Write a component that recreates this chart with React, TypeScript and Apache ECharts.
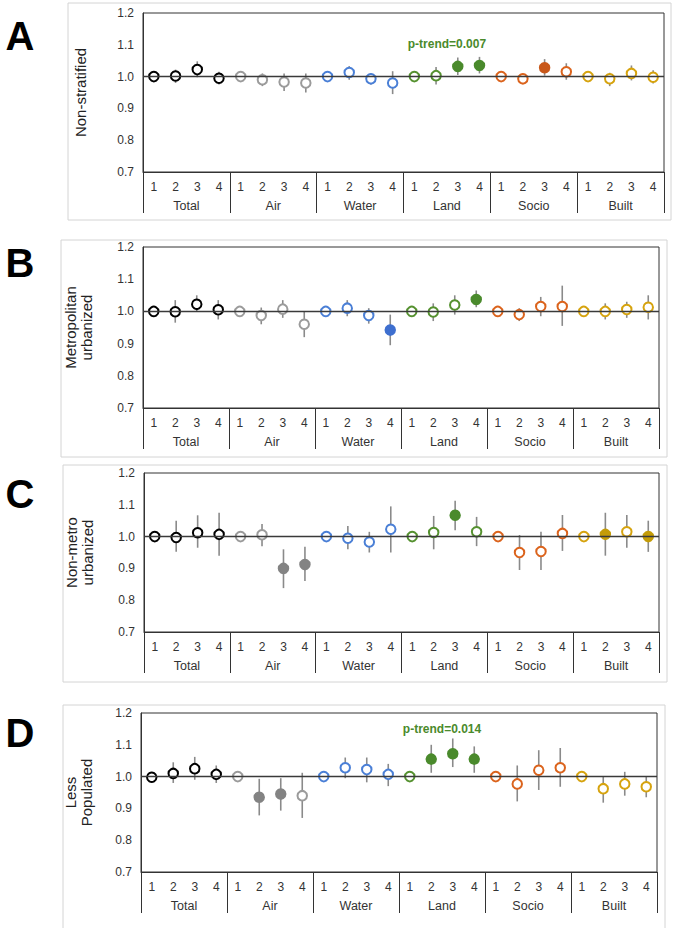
import React, { useEffect, useRef } from "react";
import * as echarts from "echarts";

// ---------- data ----------
const groups = ["Total", "Air", "Water", "Land", "Socio", "Built"];
const quartiles = ["1", "2", "3", "4"];
const yMin = 0.7;
const yMax = 1.2;
const yStep = 0.1;

const openColors = ["#000000", "#9b9b9b", "#4a7fd6", "#55912f", "#db631c", "#d6a30e"];
const filledColors = ["#000000", "#838383", "#3e6fcf", "#4a8a2c", "#c8581a", "#c49c08"];

const panelLetters = ["A", "B", "C", "D"];
const panelTitles = ["Non-stratified", "Metropolitan\nurbanized", "Non-metro\nurbanized", "Less\nPopulated"];
const pTrendTexts = ["p-trend=0.007", "", "", "p-trend=0.014"];

// Panel A: Non-stratified
const estA = [1.0, 1.002, 1.022, 0.995, 1.0, 0.99, 0.983, 0.98, 1.0, 1.013, 0.993, 0.98, 1.0, 1.003, 1.032, 1.035, 1.0, 0.993, 1.028, 1.015, 1.0, 0.993, 1.01, 0.998];
const loA = [1.0, 0.98, 0.998, 0.975, 1.0, 0.97, 0.955, 0.95, 1.0, 0.99, 0.975, 0.945, 1.0, 0.975, 1.005, 1.01, 1.0, 0.98, 1.003, 0.99, 1.0, 0.97, 0.988, 0.978];
const hiA = [1.0, 1.022, 1.048, 1.015, 1.0, 1.01, 1.01, 1.01, 1.0, 1.033, 1.01, 1.017, 1.0, 1.03, 1.06, 1.062, 1.0, 1.006, 1.055, 1.042, 1.0, 1.012, 1.035, 1.02];
const sigA = [0, 0, 0, 0, 0, 0, 0, 0, 0, 0, 0, 0, 0, 0, 1, 1, 0, 0, 1, 0, 0, 0, 0, 0];

// Panel B: Metropolitan urbanized
const estB = [1.0, 0.999, 1.022, 1.005, 1.0, 0.987, 1.007, 0.96, 1.0, 1.01, 0.987, 0.942, 1.0, 0.998, 1.02, 1.037, 1.0, 0.99, 1.015, 1.015, 1.0, 1.0, 1.006, 1.013];
const loB = [1.0, 0.965, 1.0, 0.975, 1.0, 0.96, 0.98, 0.92, 1.0, 0.985, 0.962, 0.895, 1.0, 0.97, 0.99, 1.013, 1.0, 0.97, 0.985, 0.955, 1.0, 0.975, 0.98, 0.975];
const hiB = [1.0, 1.035, 1.05, 1.035, 1.0, 1.012, 1.035, 1.0, 1.0, 1.035, 1.01, 0.99, 1.0, 1.025, 1.05, 1.065, 1.0, 1.01, 1.045, 1.08, 1.0, 1.025, 1.03, 1.05];
const sigB = [0, 0, 0, 0, 0, 0, 0, 0, 0, 0, 0, 1, 0, 0, 0, 1, 0, 0, 0, 0, 0, 0, 0, 0];

// Panel C: Non-metro urbanized
const estC = [1.0, 0.997, 1.012, 1.007, 1.0, 1.006, 0.9, 0.912, 1.0, 0.995, 0.983, 1.023, 1.0, 1.013, 1.067, 1.015, 1.0, 0.95, 0.953, 1.01, 1.0, 1.007, 1.015, 1.0];
const loC = [1.0, 0.952, 0.965, 0.94, 1.0, 0.97, 0.838, 0.86, 1.0, 0.96, 0.95, 0.95, 1.0, 0.96, 1.02, 0.97, 1.0, 0.895, 0.895, 0.955, 1.0, 0.94, 0.965, 0.952];
const hiC = [1.0, 1.05, 1.067, 1.075, 1.0, 1.04, 0.96, 0.968, 1.0, 1.033, 1.015, 1.095, 1.0, 1.065, 1.113, 1.062, 1.0, 1.005, 1.015, 1.068, 1.0, 1.075, 1.068, 1.05];
const sigC = [0, 0, 0, 0, 0, 0, 1, 1, 0, 0, 0, 0, 0, 0, 1, 0, 0, 0, 0, 0, 0, 1, 0, 1];

// Panel D: Less Populated
const estD = [0.998, 1.01, 1.025, 1.007, 1.0, 0.935, 0.945, 0.94, 1.0, 1.028, 1.022, 1.007, 1.0, 1.055, 1.072, 1.055, 1.0, 0.977, 1.02, 1.028, 1.0, 0.962, 0.977, 0.968];
const loD = [0.998, 0.98, 0.99, 0.98, 1.0, 0.878, 0.893, 0.87, 1.0, 0.995, 0.982, 0.97, 1.0, 1.012, 1.03, 1.012, 1.0, 0.922, 0.958, 0.968, 1.0, 0.918, 0.94, 0.935];
const hiD = [0.998, 1.045, 1.062, 1.035, 1.0, 0.993, 0.995, 1.012, 1.0, 1.06, 1.06, 1.04, 1.0, 1.1, 1.12, 1.095, 1.0, 1.035, 1.083, 1.09, 1.0, 1.0, 1.015, 1.0];
const sigD = [0, 0, 0, 0, 0, 1, 1, 0, 0, 0, 0, 0, 0, 1, 1, 1, 0, 0, 0, 0, 0, 0, 0, 0];

const panelData = [
  { est: estA, lo: loA, hi: hiA, sig: sigA },
  { est: estB, lo: loB, hi: hiB, sig: sigB },
  { est: estC, lo: loC, hi: hiC, sig: sigC },
  { est: estD, lo: loD, hi: hiD, sig: sigD },
];

// ---------- layout ----------
const W = 675;
const H = 928;
const gridBoxes = [
  { left: 143, top: 13, width: 521, height: 159 },
  { left: 143, top: 247, width: 516, height: 161 },
  { left: 144, top: 473, width: 515, height: 159 },
  { left: 141, top: 713, width: 516, height: 159 },
];
const panelFrames = [
  { x: 68, y: 3, w: 603, h: 217 },
  { x: 61, y: 240, w: 606, h: 217 },
  { x: 63, y: 465, w: 604, h: 217 },
  { x: 63, y: 705, w: 602, h: 240 },
];
const letterPos = [
  { x: 20, y: 36 },
  { x: 20, y: 263 },
  { x: 20, y: 494 },
  { x: 20, y: 733 },
];
const pTrendY = [44, 0, 0, 729];
const titleGaps = [55, 49, 49, 47];

const catLabels: string[] = [];
groups.forEach(() => quartiles.forEach((q) => catLabels.push(q)));

export default function App() {
  const ref = useRef<HTMLDivElement>(null);

  useEffect(() => {
    document.body.style.margin = "0";
    document.body.style.background = "#ffffff";
    if (!ref.current) return;
    const chart = echarts.init(ref.current, undefined, { renderer: "svg" });

    const grid: any[] = [];
    const xAxis: any[] = [];
    const yAxis: any[] = [];
    const series: any[] = [];
    const graphic: any[] = [];

    panelData.forEach((p, k) => {
      const g = gridBoxes[k];
      grid.push({
        left: g.left,
        top: g.top,
        width: g.width,
        height: g.height,
        show: true,
        borderColor: "#333",
        borderWidth: 1,
        backgroundColor: "transparent",
      });
      xAxis.push({
        type: "category",
        gridIndex: k,
        data: catLabels,
        boundaryGap: true,
        axisLine: { show: true, lineStyle: { color: "#333", width: 1 } },
        axisTick: { show: false },
        axisLabel: { interval: 0, color: "#333", fontSize: 12, margin: 9, fontFamily: "Liberation Sans, Arial, sans-serif" },
        splitLine: { show: false },
      });
      xAxis.push({
        type: "category",
        gridIndex: k,
        data: groups,
        position: "bottom",
        boundaryGap: true,
        axisLine: { show: false },
        axisTick: { show: true, interval: 0, length: 41, lineStyle: { color: "#333", width: 1 } },
        axisLabel: { interval: 0, color: "#333", fontSize: 12.5, margin: 27, fontFamily: "Liberation Sans, Arial, sans-serif" },
        splitLine: { show: false },
      });
      yAxis.push({
        type: "value",
        gridIndex: k,
        min: yMin,
        max: yMax,
        interval: yStep,
        axisLine: { show: true, lineStyle: { color: "#333", width: 1 } },
        axisTick: { show: false },
        splitLine: { show: false },
        axisLabel: {
          color: "#333",
          fontSize: 12,
          margin: 9,
          fontFamily: "Liberation Sans, Arial, sans-serif",
          formatter: (v: number) => v.toFixed(1),
        },
        name: panelTitles[k],
        nameLocation: "middle",
        nameGap: titleGaps[k],
        nameTextStyle: {
          color: "#222",
          fontSize: 15,
          lineHeight: 16,
          fontFamily: "Liberation Sans, Arial, sans-serif",
        },
      });

      const errData = p.est.map((_, i) => [i, p.lo[i], p.hi[i]]);
      series.push({
        type: "custom",
        xAxisIndex: 2 * k,
        yAxisIndex: k,
        z: 2,
        silent: true,
        data: errData,
        renderItem: (params: any, api: any) => {
          const x = api.value(0);
          const a = api.coord([x, api.value(1)]);
          const b = api.coord([x, api.value(2)]);
          return {
            type: "line",
            shape: { x1: a[0], y1: a[1], x2: b[0], y2: b[1] },
            style: { stroke: "#8a8a8a", lineWidth: 1.6 },
          };
        },
        markLine: {
          silent: true,
          symbol: "none",
          label: { show: false },
          lineStyle: { color: "#3a3a3a", width: 1.3, type: "solid" },
          data: [{ yAxis: 1.0 }],
        },
      });

      const pts = p.est.map((v, i) => {
        const gi = Math.floor(i / 4);
        const filled = p.sig[i] === 1;
        return {
          value: [i, v],
          itemStyle: {
            color: filled ? filledColors[gi] : "#ffffff",
            borderColor: filled ? filledColors[gi] : openColors[gi],
            borderWidth: 2,
            opacity: 1,
          },
        };
      });
      series.push({
        type: "scatter",
        xAxisIndex: 2 * k,
        yAxisIndex: k,
        z: 3,
        symbol: "circle",
        symbolSize: 9.5,
        data: pts,
      });

      const fr = panelFrames[k];
      graphic.push({
        type: "rect",
        silent: true,
        z: 0,
        shape: { x: fr.x, y: fr.y, width: fr.w, height: fr.h },
        style: { fill: "none", stroke: "#d4d4d4", lineWidth: 1 },
      });
      graphic.push({
        type: "text",
        silent: true,
        x: letterPos[k].x,
        y: letterPos[k].y,
        style: {
          text: panelLetters[k],
          font: "bold 40px 'Liberation Sans', Arial, sans-serif",
          fill: "#000",
          align: "center",
          verticalAlign: "middle",
        },
      });
      if (pTrendTexts[k]) {
        graphic.push({
          type: "text",
          silent: true,
          x: g.left + (g.width / 24) * 14,
          y: pTrendY[k],
          style: {
            text: pTrendTexts[k],
            font: "bold 12px 'Liberation Sans', Arial, sans-serif",
            fill: "#4a8a2c",
            align: "center",
            verticalAlign: "middle",
          },
        });
      }
    });

    chart.setOption({
      animation: false,
      backgroundColor: "#ffffff",
      grid,
      xAxis,
      yAxis,
      series,
      graphic,
    });

    return () => chart.dispose();
  }, []);

  return <div ref={ref} style={{ width: W, height: H }} />;
}
